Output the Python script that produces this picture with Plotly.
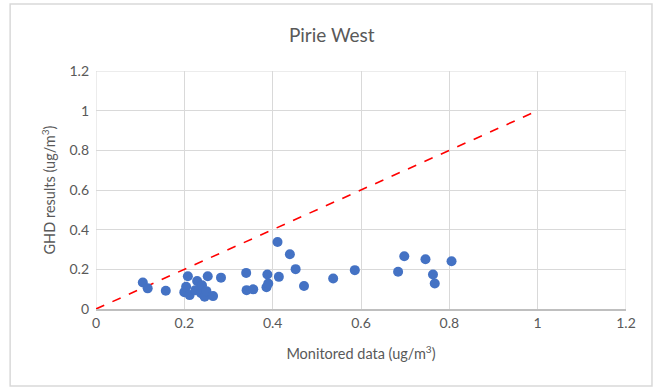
import plotly.graph_objects as go

monitored = [0.106, 0.117, 0.158, 0.200, 0.204, 0.208, 0.212, 0.225, 0.229, 0.235,
             0.238, 0.240, 0.246, 0.250, 0.253, 0.265, 0.283, 0.340, 0.341, 0.356,
             0.386, 0.388, 0.390, 0.411, 0.414, 0.439, 0.452, 0.471, 0.537, 0.586,
             0.684, 0.698, 0.746, 0.763, 0.767, 0.805]
ghd = [0.134, 0.104, 0.092, 0.085, 0.112, 0.165, 0.070, 0.095, 0.141, 0.104,
       0.080, 0.120, 0.062, 0.090, 0.165, 0.065, 0.158, 0.182, 0.095, 0.099,
       0.110, 0.174, 0.129, 0.338, 0.162, 0.276, 0.201, 0.116, 0.154, 0.196,
       0.188, 0.266, 0.251, 0.174, 0.129, 0.241]
line_x = [0, 1]
line_y = [0, 1]
tick_vals = [0, 0.2, 0.4, 0.6, 0.8, 1, 1.2]
tick_text = ["0", "0.2", "0.4", "0.6", "0.8", "1", "1.2"]

font = "Lato, 'Open Sans', sans-serif"
grey = "#595959"

fig = go.Figure()
fig.add_trace(go.Scatter(x=line_x, y=line_y, mode="lines",
                         line=dict(color="#ff0000", width=1.6, dash="dash"),
                         hoverinfo="skip", showlegend=False))
fig.add_trace(go.Scatter(x=monitored, y=ghd, mode="markers",
                         marker=dict(color="#4472C4", size=10), showlegend=False))

fig.update_layout(
    width=657, height=389,
    margin=dict(l=96, r=31, t=71, b=80),
    paper_bgcolor="white", plot_bgcolor="white",
    title=dict(text="Pirie West", x=0.505, xanchor="center", y=0.91, yanchor="middle",
               font=dict(family=font, size=19, color=grey)),
    font=dict(family=font, color=grey),
    shapes=[dict(type="rect", xref="paper", yref="paper",
                 x0=-0.162, x1=1.049, y0=-0.324, y1=1.282,
                 line=dict(color="#d9d9d9", width=1.5), layer="below")],
)
fig.update_xaxes(range=[0, 1.2], tickvals=tick_vals, ticktext=tick_text,
                 showgrid=True, gridcolor="#d9d9d9", gridwidth=1,
                 zeroline=False, showline=True, linecolor="#bfbfbf", linewidth=1.5,
                 ticks="", tickfont=dict(size=14, color=grey),
                 title=dict(text="Monitored data (ug/m<sup>3</sup>)", standoff=19,
                            font=dict(size=14.5, color=grey)),
                 automargin=False, fixedrange=True)
fig.update_yaxes(range=[0, 1.2], tickvals=tick_vals, ticktext=tick_text,
                 showgrid=True, gridcolor="#d9d9d9", gridwidth=1,
                 zeroline=False, showline=False, ticks="",
                 tickfont=dict(size=14, color=grey), ticklabelstandoff=6,
                 title=dict(text="GHD results (ug/m<sup>3</sup>)", standoff=10,
                            font=dict(size=14.5, color=grey)),
                 automargin=False, fixedrange=True)
fig.add_vline(x=0, line=dict(color="#d9d9d9", width=1), layer="below")
fig.add_vline(x=1.2, line=dict(color="#d9d9d9", width=1), layer="below")
fig.add_hline(y=1.2, line=dict(color="#d9d9d9", width=1), layer="below")

fig.write_html("out.html", config={"displayModeBar": False},
               post_script="document.body.style.margin='0';")
